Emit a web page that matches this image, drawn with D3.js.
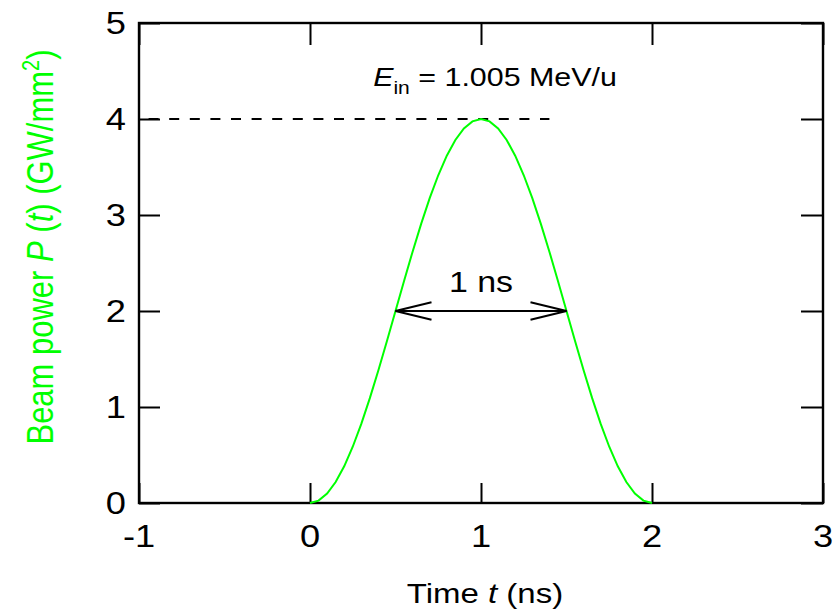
<!DOCTYPE html>
<html><head><meta charset="utf-8">
<script src="https://cdn.jsdelivr.net/npm/d3@7"></script>
<style>body{margin:0;background:#fff}svg{display:block;font-family:"Liberation Sans",Arial,sans-serif}</style>
</head><body><svg id="c" width="840" height="615"></svg>
<script>
const xTicks = [-1, 0, 1, 2, 3];
const yTicks = [0, 1, 2, 3, 4, 5];
const times = [0,0.05,0.1,0.15,0.2,0.25,0.3,0.35,0.4,0.45,0.5,0.55,0.6,0.65,0.7,0.75,0.8,0.85,0.9,0.95,1.0,
  1.05,1.1,1.15,1.2,1.25,1.3,1.35,1.4,1.45,1.5,1.55,1.6,1.65,1.7,1.75,1.8,1.85,1.9,1.95,2.0];
const power = [0,0.025,0.098,0.218,0.382,0.586,0.824,1.092,1.382,1.687,2.0,2.313,2.618,2.908,3.176,3.414,3.618,3.782,3.902,3.975,4.0,
  3.975,3.902,3.782,3.618,3.414,3.176,2.908,2.618,2.313,2.0,1.687,1.382,1.092,0.824,0.586,0.382,0.218,0.098,0.025,0];
const peakLevel = 4, dashEnd = 1.4;
const fwhmT = [0.5, 1.5], fwhmLevel = 2;
const green = "#00ff00";
const SX = 1.17;

const svg = d3.select("#c");
const x = d3.scaleLinear().domain([-1, 3]).range([139, 823]);
const y = d3.scaleLinear().domain([0, 5]).range([503, 23]);

function styleAxis(g){g.select(".domain").remove();g.selectAll("line").attr("stroke","#000").attr("stroke-width",2);}
svg.append("g").attr("transform","translate(0,503)")
  .call(d3.axisBottom(x).tickValues(xTicks).tickSizeInner(-20).tickSizeOuter(0).tickFormat("")).call(styleAxis);
svg.append("g").attr("transform","translate(0,23)")
  .call(d3.axisTop(x).tickValues(xTicks).tickSizeInner(-22).tickSizeOuter(0).tickFormat("")).call(styleAxis);
svg.append("g").attr("transform","translate(139,0)")
  .call(d3.axisLeft(y).tickValues(yTicks).tickSizeInner(-21).tickSizeOuter(0).tickFormat("")).call(styleAxis);
svg.append("g").attr("transform","translate(823,0)")
  .call(d3.axisRight(y).tickValues(yTicks).tickSizeInner(-22).tickSizeOuter(0).tickFormat("")).call(styleAxis);

svg.append("rect").attr("x",x(-1)).attr("y",y(5)).attr("width",x(3)-x(-1)).attr("height",y(0)-y(5))
  .attr("fill","none").attr("stroke","#000").attr("stroke-width",2.4);

svg.selectAll(".xl").data(xTicks).join("text")
  .attr("transform",d=>`translate(${x(d)},547) scale(${SX},1)`)
  .attr("text-anchor","middle").attr("font-size",31).attr("fill","#000").text(d=>d);
svg.selectAll(".yl").data(yTicks).join("text")
  .attr("transform",d=>`translate(126,${y(d)+11}) scale(${SX},1)`)
  .attr("text-anchor","end").attr("font-size",31).attr("fill","#000").text(d=>d);

svg.append("line").attr("x1",x(-1)).attr("x2",x(dashEnd)).attr("y1",y(peakLevel)).attr("y2",y(peakLevel))
  .attr("stroke","#000").attr("stroke-width",2).attr("stroke-dasharray","10,10.6").attr("stroke-dashoffset",11);

svg.append("path").datum(times.map((t,i)=>[t,power[i]]))
  .attr("d",d3.line().x(d=>x(d[0])).y(d=>y(d[1])))
  .attr("fill","none").attr("stroke",green).attr("stroke-width",2);

const ax1 = x(fwhmT[0]), ax2 = x(fwhmT[1]), ay = y(fwhmLevel);
svg.append("line").attr("x1",ax1).attr("x2",ax2).attr("y1",ay).attr("y2",ay).attr("stroke","#000").attr("stroke-width",2);
svg.append("path").attr("d",`M${ax1+36},${ay-8.7}L${ax1},${ay}L${ax1+36},${ay+8.7}`).attr("fill","none").attr("stroke","#000").attr("stroke-width",2);
svg.append("path").attr("d",`M${ax2-36},${ay-8.7}L${ax2},${ay}L${ax2-36},${ay+8.7}`).attr("fill","none").attr("stroke","#000").attr("stroke-width",2);
svg.append("text").attr("transform",`translate(${(ax1+ax2)/2},292) scale(${SX},1)`)
  .attr("text-anchor","middle").attr("font-size",29).text("1 ns");

const el = svg.append("text").attr("transform",`translate(495,86) scale(${SX},1)`)
  .attr("text-anchor","middle").attr("font-size",26);
el.append("tspan").attr("font-style","italic").text("E");
el.append("tspan").attr("font-size",18).attr("dy",8).text("in");
el.append("tspan").attr("dy",-8).text(" = 1.005 MeV/u");

const xt = svg.append("text").attr("transform",`translate(485,603) scale(1.2,1)`)
  .attr("text-anchor","middle").attr("font-size",27.5);
xt.append("tspan").text("Time ");
xt.append("tspan").attr("font-style","italic").text("t");
xt.append("tspan").text(" (ns)");

const yt = svg.append("text").attr("transform",`translate(53,247) scale(${SX},1) rotate(-90)`)
  .attr("text-anchor","middle").attr("font-size",31).attr("fill",green);
yt.append("tspan").text("Beam power ");
yt.append("tspan").attr("font-style","italic").text("P");
yt.append("tspan").text(" (");
yt.append("tspan").attr("font-style","italic").text("t");
yt.append("tspan").text(") (GW/mm");
yt.append("tspan").attr("font-size",20).attr("dy",-12).text("2");
yt.append("tspan").attr("dy",12).text(")");
</script></body></html>
